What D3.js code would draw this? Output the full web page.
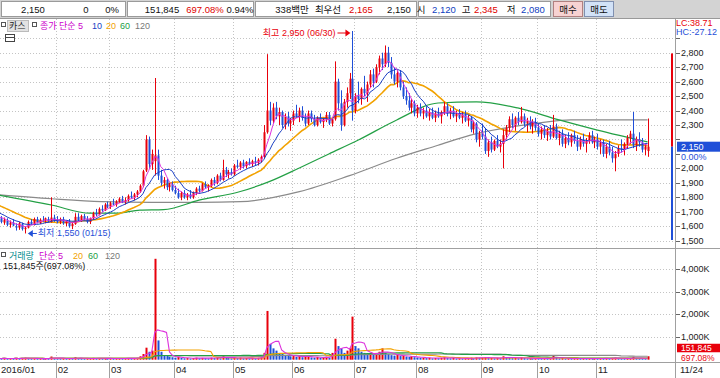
<!DOCTYPE html>
<html lang="ko">
<head>
    <meta charset="UTF-8">
    <title>카스 일봉</title>
    <script src="https://d3js.org/d3.v7.min.js"></script>
    <style>
        body { margin: 0; background: #fff; }
        svg { display: block; font-family: "Liberation Sans", "Noto Sans CJK KR", sans-serif; }
    </style>
</head>
<body>
<script>
    // Size
    const W = 720, H = 378;

    // Categories: trading days per month, month labels
    const monthLabels = ["2016/01", "02", "03", "04", "05", "06", "07", "08", "09", "10", "11"];
    const monthDays = [20, 18, 22, 20, 20, 21, 21, 22, 19, 20, 18];
    const lastLabel = "11/24";

    const prevCloses = [1830, 1820, 1810, 1800, 1795, 1790, 1785, 1780, 1790, 1770,
        1750, 1740, 1730, 1720, 1690, 1680, 1670, 1675, 1665];

    // Daily prices
    const opens = [
        1640,1655,1625,1640,1610,1625,1600,1590,1615,1580,1590,1630,1610,1650,1620,1645,1640,1650,1630,1660,
        1645,1630,1650,1620,1635,1600,1615,1665,1640,1670,1650,1630,1655,1690,1680,1720,1710,1750,
        1735,1760,1750,1770,1790,1770,1780,1810,1800,1820,1840,1880,1985,2200,2030,2050,2090,1950,1900,1920,1870,1890,
        1850,1830,1800,1830,1800,1820,1800,1830,1860,1845,1890,1870,1880,1920,1900,1950,1920,1990,1960,1975,
        1960,2020,2010,2040,2015,2045,2030,2050,2040,2060,2080,2250,2400,2330,2420,2360,2390,2300,2360,2310,
        2330,2380,2360,2400,2350,2310,2380,2340,2300,2350,2320,2340,2370,2310,2340,2600,2450,2300,2460,2520,2620,
        2400,2500,2480,2550,2520,2580,2650,2600,2700,2760,2720,2800,2730,2650,2600,2660,2560,2500,2470,2420,2450,
        2380,2420,2380,2400,2360,2390,2350,2380,2360,2390,2430,2380,2400,2360,2380,2350,2370,2330,2350,2270,2310,2200,
        2240,2220,2120,2180,2130,2190,2150,2170,2230,2280,2340,2300,2350,2320,2360,2310,2330,2290,2320,
        2280,2240,2270,2230,2260,2220,2290,2210,2240,2170,2210,2180,2230,2190,2150,2200,2170,2190,2230,2180,
        2200,2150,2180,2100,2150,2110,2070,2100,2140,2130,2170,2210,2240,2160,2200,2180,2130,2120];
    const highs = [
        1665,1670,1660,1655,1640,1650,1620,1630,1625,1600,1640,1650,1660,1665,1655,1670,1660,1665,1800,1680,
        1670,1660,1665,1640,1650,1625,1690,1690,1680,1685,1670,1660,1700,1720,1730,1745,1760,1770,
        1770,1790,1780,1800,1810,1800,1820,1840,1830,1850,1890,1990,2230,2220,2130,2625,2130,1990,1940,1930,1900,1910,
        1880,1860,1840,1850,1830,1850,1840,1870,1880,1900,1910,1890,1930,1940,1960,1970,2060,2010,1990,2000,
        2030,2060,2050,2060,2050,2070,2060,2080,2070,2090,2300,2790,2460,2450,2460,2420,2400,2380,2390,2350,
        2400,2440,2420,2430,2380,2400,2400,2370,2360,2380,2350,2390,2390,2350,2740,2620,2540,2480,2560,2660,2950,
        2520,2600,2560,2640,2600,2680,2690,2720,2780,2800,2850,2840,2770,2700,2680,2680,2600,2560,2520,2480,2470,
        2440,2450,2420,2430,2410,2420,2400,2420,2400,2460,2450,2420,2430,2400,2410,2390,2400,2370,2360,2330,2320,2260,
        2310,2280,2200,2220,2200,2230,2200,2270,2300,2360,2380,2360,2390,2425,2380,2350,2360,2340,2350,
        2310,2290,2300,2280,2300,2370,2310,2260,2270,2230,2250,2240,2260,2230,2220,2240,2210,2250,2260,2220,
        2240,2200,2200,2170,2190,2150,2120,2160,2200,2180,2230,2260,2390,2220,2250,2210,2170,2345];
    const lows = [
        1615,1620,1610,1600,1590,1600,1570,1575,1570,1550,1585,1610,1605,1620,1615,1630,1620,1625,1625,1630,
        1620,1615,1610,1600,1590,1580,1610,1630,1630,1640,1620,1615,1645,1670,1675,1700,1705,1725,
        1720,1745,1735,1760,1760,1750,1770,1790,1780,1800,1830,1870,1975,2000,1990,1950,1920,1880,1860,1850,1840,1840,
        1820,1790,1780,1790,1780,1790,1790,1815,1830,1840,1860,1840,1870,1880,1890,1910,1915,1940,1930,1950,
        1950,2000,1990,2000,2000,2020,2010,2020,2020,2040,2070,2240,2300,2310,2340,2300,2280,2270,2290,2260,
        2300,2350,2320,2330,2290,2300,2320,2290,2290,2310,2280,2320,2300,2290,2330,2400,2260,2290,2420,2480,2330,
        2380,2450,2440,2500,2460,2560,2560,2590,2650,2680,2700,2700,2620,2580,2560,2540,2480,2440,2400,2380,2360,
        2350,2360,2340,2350,2330,2340,2320,2350,2310,2370,2360,2340,2350,2320,2340,2310,2320,2290,2250,2240,2180,2150,
        2200,2100,2080,2110,2120,2140,2110,2000,2200,2250,2280,2260,2300,2310,2290,2250,2270,2240,2260,
        2220,2200,2210,2190,2200,2210,2200,2160,2150,2140,2160,2150,2170,2120,2130,2150,2110,2170,2170,2140,
        2130,2100,2080,2070,2090,2040,1980,2080,2110,2090,2140,2170,2140,2120,2150,2110,2090,2080];
    const closes = [
        1655,1630,1645,1610,1625,1605,1590,1620,1580,1590,1630,1615,1650,1625,1645,1640,1655,1635,1660,1645,
        1630,1650,1620,1635,1600,1615,1665,1640,1670,1650,1630,1655,1690,1680,1720,1710,1750,1735,
        1760,1750,1770,1790,1770,1780,1810,1800,1820,1840,1880,1980,2200,2030,2100,2090,1950,1900,1920,1870,1890,1850,
        1830,1800,1830,1800,1820,1800,1830,1860,1845,1890,1870,1880,1920,1900,1950,1920,1990,1960,1975,1960,
        2020,2010,2040,2015,2045,2030,2050,2040,2060,2080,2250,2400,2330,2420,2360,2390,2300,2360,2310,2330,
        2380,2360,2400,2350,2310,2380,2340,2300,2350,2320,2340,2370,2310,2340,2600,2450,2300,2460,2520,2620,2400,
        2500,2480,2550,2520,2580,2650,2600,2700,2760,2720,2800,2730,2650,2600,2660,2560,2500,2470,2420,2450,2380,
        2420,2380,2400,2360,2390,2350,2380,2360,2390,2430,2380,2400,2360,2380,2350,2370,2330,2350,2270,2310,2200,2240,
        2220,2120,2180,2130,2190,2150,2170,2230,2280,2340,2300,2350,2320,2360,2310,2330,2290,2320,2280,
        2240,2270,2230,2260,2220,2290,2210,2240,2170,2210,2180,2230,2190,2150,2200,2170,2190,2230,2180,2200,
        2150,2180,2100,2150,2110,2070,2100,2140,2130,2170,2210,2240,2160,2200,2180,2130,2150,2150];

    // Daily volume, thousand shares
    const volumes = [
        60,45,70,40,55,50,80,45,65,90,70,40,55,35,60,45,50,40,140,70,
        50,40,60,35,70,45,110,60,55,40,45,60,80,50,75,45,70,50,
        60,45,55,70,40,60,75,50,65,80,150,250,530,350,400,4450,850,350,200,180,130,110,
        90,120,80,60,70,50,75,90,60,80,70,55,90,70,100,60,170,90,70,60,
        80,70,90,60,75,55,80,60,70,100,300,2150,700,500,400,300,250,200,180,150,
        160,120,180,110,130,150,100,90,120,80,100,130,90,300,925,600,500,300,400,500,1900,
        600,500,350,300,250,280,220,300,350,500,300,250,200,180,220,160,180,140,120,150,110,
        100,80,90,70,85,60,75,65,80,110,70,60,75,55,65,50,60,70,90,60,100,80,
        90,110,70,80,60,75,65,150,100,90,70,80,60,110,70,55,60,50,65,
        60,50,70,45,55,180,80,60,70,50,60,45,55,70,50,60,45,55,50,60,
        50,60,45,70,55,80,90,60,50,45,55,60,130,70,50,40,21.78,151.845];

    // 60 and 120 day averages: [day index, price]
    const ma60Pts = [[0,1816],[18,1747],[31,1690],[40,1690],[48,1712],[56,1715],[68,1780],[82,1840],[92,1910],
        [102,2003],[112,2100],[122,2196],[135,2335],[149,2452],[162,2460],[176,2418],[190,2335],[203,2265],[220,2183]];
    const ma120Pts = [[0,1818],[18,1790],[35,1770],[52,1765],[68,1765],[82,1770],[102,1839],[119,1950],
        [135,2070],[149,2160],[160,2230],[183,2313],[194,2335],[220,2335]];

    // Ticks
    const priceTicks = [1500,1600,1700,1800,1900,2000,2100,2200,2300,2400,2500,2600,2700,2800,2900];
    const volTicks = [1000,2000,3000,4000];
    const limits = {upper: 2795, lower: 1505, last: 2150};

    // Toolbar quote
    const quote = [
        {t: "2,150", x: 33}, {t: "0", x: 86}, {t: "0%", x: 112}, {t: "151,845", x: 162},
        {t: "697.08%", x: 205, c: "#e00000"}, {t: "0.94%", x: 240}, {t: "338백만", x: 292},
        {t: "최우선", x: 328}, {t: "2,165", x: 361, c: "#e00000"}, {t: "2,150", x: 399},
        {t: "시", x: 421}, {t: "2,120", x: 444, c: "#1040c0"}, {t: "고", x: 466},
        {t: "2,345", x: 486, c: "#e00000"}, {t: "저", x: 511}, {t: "2,080", x: 533, c: "#1040c0"}
    ];

    const RED = "#e8000b", BLUE = "#1f4fd8";
    const C5 = "#dd33dd", C10 = "#1a3fc4", C20 = "#f2a200", C60 = "#23a045", C120 = "#8a8a8a";

    const N = closes.length;
    const axisX = 675;
    const mainTop = 19, sep = 248, volBottom = 362;
    const fmt = d3.format(",");

    const svg = d3.select("body").append("svg")
        .attr("width", W)
        .attr("height", H)
        .attr("font-size", 9);

    svg.append("rect").attr("width", W).attr("height", H).attr("fill", "#fff");

    // X scale
    const x = d3.scaleBand()
        .domain(d3.range(N))
        .range([-3.2, -3.2 + N * 2.9515]);
    const xc = i => x(i) + x.bandwidth() / 2;

    // Y scales
    const y = d3.scaleLinear().domain([1500, 2800]).range([240.7, 52.7]);
    const yv = d3.scaleLinear().domain([0, 4000]).range([359.7, 269]);

    // Moving averages
    function movingAvg(arr, n, prev) {
        const all = (prev || []).concat(arr);
        const off = all.length - arr.length;
        return arr.map((_, i) => d3.mean(all.slice(Math.max(0, i + off + 1 - n), i + off + 1)));
    }

    // Month start indices
    const monthStart = [];
    monthDays.reduce((s, d) => { monthStart.push(s); return s + d; }, 0);

    // Grid
    const grid = svg.append("g")
        .attr("stroke", "#c4c4c4")
        .attr("stroke-dasharray", "1,2");
    grid.selectAll(".hp").data(priceTicks).join("line")
        .attr("x1", 0).attr("x2", axisX)
        .attr("y1", d => Math.round(y(d)) + 0.5).attr("y2", d => Math.round(y(d)) + 0.5);
    grid.selectAll(".hv").data(volTicks).join("line")
        .attr("x1", 0).attr("x2", axisX)
        .attr("y1", d => Math.round(yv(d)) + 0.5).attr("y2", d => Math.round(yv(d)) + 0.5);
    grid.selectAll(".vm").data(monthStart.slice(1)).join("line")
        .attr("x1", d => Math.round(x(d)) + 0.5).attr("x2", d => Math.round(x(d)) + 0.5)
        .attr("y1", mainTop).attr("y2", volBottom);

    // MA lines (price)
    const lineIdx = d3.line().x((d, i) => xc(i)).y(d => y(d));
    const linePts = d3.line().x(d => xc(d[0])).y(d => y(d[1])).curve(d3.curveMonotoneX);

    svg.append("path").datum(ma120Pts).attr("d", linePts)
        .attr("fill", "none").attr("stroke", C120).attr("stroke-width", 1.2);
    svg.append("path").datum(ma60Pts).attr("d", linePts)
        .attr("fill", "none").attr("stroke", C60).attr("stroke-width", 1.2);
    svg.append("path").datum(movingAvg(closes, 20, prevCloses)).attr("d", lineIdx)
        .attr("fill", "none").attr("stroke", C20).attr("stroke-width", 1.6);

    // Candles
    const candles = svg.append("g");
    candles.selectAll("line").data(d3.range(N)).join("line")
        .attr("x1", i => Math.round(xc(i)) + 0.5).attr("x2", i => Math.round(xc(i)) + 0.5)
        .attr("y1", i => y(highs[i])).attr("y2", i => y(lows[i]))
        .attr("stroke", i => closes[i] >= opens[i] ? RED : BLUE);
    candles.selectAll("rect").data(d3.range(N)).join("rect")
        .attr("x", i => Math.round(xc(i)) - 0.5)
        .attr("width", 2)
        .attr("y", i => y(Math.max(opens[i], closes[i])))
        .attr("height", i => Math.max(1, Math.abs(y(opens[i]) - y(closes[i]))))
        .attr("fill", i => closes[i] >= opens[i] ? RED : BLUE);

    svg.append("path").datum(movingAvg(closes, 10, prevCloses)).attr("d", lineIdx)
        .attr("fill", "none").attr("stroke", C10).attr("stroke-width", 1);
    svg.append("path").datum(movingAvg(closes, 5, prevCloses)).attr("d", lineIdx)
        .attr("fill", "none").attr("stroke", C5).attr("stroke-width", 1);

    // High / low marks
    const hiIdx = d3.maxIndex(highs), loIdx = d3.minIndex(lows);
    const hx = xc(hiIdx) - 2, hy = y(highs[hiIdx]) + 2;
    svg.append("line").attr("x1", hx - 13).attr("x2", hx - 3).attr("y1", hy).attr("y2", hy)
        .attr("stroke", RED);
    svg.append("path").attr("d", `M${hx},${hy}l-5,-3.5v7z`).attr("fill", RED);
    svg.append("text").attr("x", hx - 15).attr("y", hy + 3)
        .attr("text-anchor", "end").attr("fill", RED)
        .text(`최고 ${fmt(highs[hiIdx])} (06/30)`);
    const lx = xc(loIdx) + 3, ly = y(lows[loIdx]);
    svg.append("line").attr("x1", lx + 3).attr("x2", lx + 9).attr("y1", ly).attr("y2", ly)
        .attr("stroke", BLUE);
    svg.append("path").attr("d", `M${lx},${ly}l5,-3.5v7z`).attr("fill", BLUE);
    svg.append("text").attr("x", lx + 10).attr("y", ly + 3)
        .attr("fill", BLUE)
        .text(`최저 ${fmt(lows[loIdx])} (01/15)`);

    // Volume bars
    svg.append("g").selectAll("rect").data(d3.range(N)).join("rect")
        .attr("x", i => Math.round(xc(i)) - 0.5)
        .attr("width", 2)
        .attr("y", i => Math.min(yv(volumes[i]), yv(0) - 1))
        .attr("height", i => Math.max(1, yv(0) - yv(volumes[i])))
        .attr("fill", i => i > 0 && volumes[i] < volumes[i - 1] ? BLUE : RED);

    const lineVol = d3.line().x((d, i) => xc(i)).y(d => yv(d));
    [[120, C120], [60, C60], [20, C20], [5, C5]].forEach(([n, c]) => {
        svg.append("path").datum(movingAvg(volumes, n)).attr("d", lineVol)
            .attr("fill", "none").attr("stroke", c).attr("stroke-width", 1.1);
    });

    // Panel borders
    svg.append("line").attr("x1", 0).attr("x2", W).attr("y1", sep + 0.5).attr("y2", sep + 0.5)
        .attr("stroke", "#a0a0a0");
    svg.append("line").attr("x1", 0).attr("x2", W).attr("y1", volBottom + 0.5).attr("y2", volBottom + 0.5)
        .attr("stroke", "#a0a0a0");
    svg.append("line").attr("x1", axisX + 0.5).attr("x2", axisX + 0.5).attr("y1", mainTop).attr("y2", H)
        .attr("stroke", "#a0a0a0");

    // X axis labels
    const xa = svg.append("g").attr("font-size", 9.5).attr("fill", "#222");
    xa.selectAll("line").data(monthStart.slice(1)).join("line")
        .attr("x1", d => Math.round(x(d)) + 0.5).attr("x2", d => Math.round(x(d)) + 0.5)
        .attr("y1", volBottom).attr("y2", H).attr("stroke", "#a0a0a0");
    xa.selectAll("text").data(monthStart).join("text")
        .attr("x", (d, i) => i === 0 ? 1 : x(d) + 2)
        .attr("y", 373)
        .text((d, i) => monthLabels[i]);
    xa.append("text").attr("x", axisX + 5).attr("y", 373).text(lastLabel);

    // Right axes (labels under the price box and the HC text are hidden, as in the source)
    const shownTicks = priceTicks.filter(t => t < 2900 && Math.abs(y(t) - y(limits.last)) > 10);
    const ra = svg.append("g").attr("fill", "#222");
    ra.selectAll(".tp").data(shownTicks).join("text")
        .attr("x", axisX + 6).attr("y", d => y(d) + 3)
        .text(d => fmt(d));
    ra.selectAll(".tv").data(volTicks).join("text")
        .attr("x", axisX + 6).attr("y", d => yv(d) + 3)
        .text(d => fmt(d) + "K");
    svg.append("g").attr("stroke", "#666").selectAll("line")
        .data(priceTicks.map(y).concat(volTicks.map(yv))).join("line")
        .attr("x1", axisX + 1).attr("x2", axisX + 5)
        .attr("y1", d => Math.round(d) + 0.5).attr("y2", d => Math.round(d) + 0.5);

    // Limit bar and last price
    svg.append("rect").attr("x", axisX - 4).attr("width", 2)
        .attr("y", y(limits.upper)).attr("height", y(limits.last) - y(limits.upper)).attr("fill", RED);
    svg.append("rect").attr("x", axisX - 4).attr("width", 2)
        .attr("y", y(limits.last)).attr("height", y(limits.lower) - y(limits.last)).attr("fill", BLUE);
    svg.append("rect").attr("x", axisX + 2).attr("y", y(limits.last) - 5)
        .attr("width", W - axisX - 2).attr("height", 10).attr("fill", BLUE);
    svg.append("text").attr("x", axisX + 6).attr("y", y(limits.last) + 3.5)
        .attr("fill", "#fff").text(fmt(limits.last));
    svg.append("text").attr("x", axisX + 6).attr("y", y(limits.last) + 13)
        .attr("fill", BLUE).text("0.00%");

    const lv = volumes[N - 1];
    svg.append("rect").attr("x", axisX + 2).attr("y", yv(lv) - 12.5)
        .attr("width", W - axisX - 2).attr("height", 8.5).attr("fill", RED);
    svg.append("text").attr("x", axisX + 6).attr("y", yv(lv) - 5.2)
        .attr("font-size", 8.5).attr("fill", "#fff").text("151,845");
    svg.append("text").attr("x", axisX + 6).attr("y", yv(lv) + 4.8)
        .attr("font-size", 8.5).attr("fill", RED).text("697.08%");

    // LC / HC
    svg.append("text").attr("x", axisX + 1).attr("y", 25.5).attr("fill", RED)
        .text("LC:38.71");
    svg.append("text").attr("x", axisX + 1).attr("y", 34.5).attr("fill", BLUE)
        .text("HC:-27.12");

    // Legends
    const lg = svg.append("g");
    lg.append("rect").attr("x", 1.5).attr("y", 22.5).attr("width", 4).attr("height", 4)
        .attr("fill", "none").attr("stroke", "#555");
    lg.append("rect").attr("x", 7.5).attr("y", 20.5).attr("width", 21).attr("height", 11)
        .attr("fill", "#e2e2e2").attr("stroke", "#bbb");
    lg.append("text").attr("x", 9).attr("y", 29).attr("fill", "#222").text("카스");
    lg.append("rect").attr("x", 32.5).attr("y", 22.5).attr("width", 4).attr("height", 4)
        .attr("fill", "none").attr("stroke", "#555");
    lg.append("text").attr("x", 40).attr("y", 29).attr("fill", "#cc00cc").text("종가 단순 5");
    [["10", C10, 92], ["20", C20, 106], ["60", C60, 120], ["120", "#777", 135]].forEach(([t, c, px]) => {
        lg.append("text").attr("x", px).attr("y", 29).attr("fill", c).text(t);
    });
    lg.append("rect").attr("x", 5.5).attr("y", 34.5).attr("width", 9).attr("height", 7)
        .attr("fill", "#fff").attr("stroke", "#444");
    lg.append("line").attr("x1", 5.5).attr("x2", 14.5).attr("y1", 37.5).attr("y2", 37.5).attr("stroke", "#444");

    lg.append("rect").attr("x", 1.5).attr("y", 252.5).attr("width", 4).attr("height", 4)
        .attr("fill", "none").attr("stroke", "#555");
    lg.append("text").attr("x", 9).attr("y", 258.5).attr("fill", "#008c8c").text("거래량");
    lg.append("text").attr("x", 39).attr("y", 258.5).attr("fill", "#cc00cc").text("단순 5");
    [["20", C20, 73], ["60", C60, 88], ["120", "#777", 105]].forEach(([t, c, px]) => {
        lg.append("text").attr("x", px).attr("y", 258.5).attr("fill", c).text(t);
    });
    lg.append("text").attr("x", 3).attr("y", 268.5).attr("fill", "#111").text("151,845주(697.08%)");

    // Toolbar
    svg.append("rect").attr("width", W).attr("height", mainTop).attr("fill", "#d3d3d3");
    [[1, 124], [127, 126], [255, 161], [418, 132]].forEach(([bx, bw]) => {
        svg.append("rect").attr("x", bx + 0.5).attr("y", 1.5).attr("width", bw).attr("height", 15)
            .attr("fill", "#fff").attr("stroke", "#9a9a9a");
    });
    svg.append("rect").attr("x", 553.5).attr("y", 1.5).attr("width", 29).attr("height", 15)
        .attr("fill", "#f7d2d2").attr("stroke", "#b08080");
    svg.append("rect").attr("x", 584.5).attr("y", 1.5).attr("width", 29).attr("height", 15)
        .attr("fill", "#d2e2f7").attr("stroke", "#8090b0");
    svg.append("g").attr("font-size", 9.5).selectAll("text").data(quote).join("text")
        .attr("x", d => d.x).attr("y", 12.5).attr("text-anchor", "middle")
        .attr("fill", d => d.c || "#111").text(d => d.t);
    svg.append("text").attr("x", 568).attr("y", 12.5).attr("text-anchor", "middle")
        .attr("font-size", 9.5).attr("fill", "#111").text("매수");
    svg.append("text").attr("x", 599).attr("y", 12.5).attr("text-anchor", "middle")
        .attr("font-size", 9.5).attr("fill", "#111").text("매도");
    svg.append("line").attr("x1", 0).attr("x2", W).attr("y1", mainTop - 0.5).attr("y2", mainTop - 0.5)
        .attr("stroke", "#999");
</script>
</body>
</html>
